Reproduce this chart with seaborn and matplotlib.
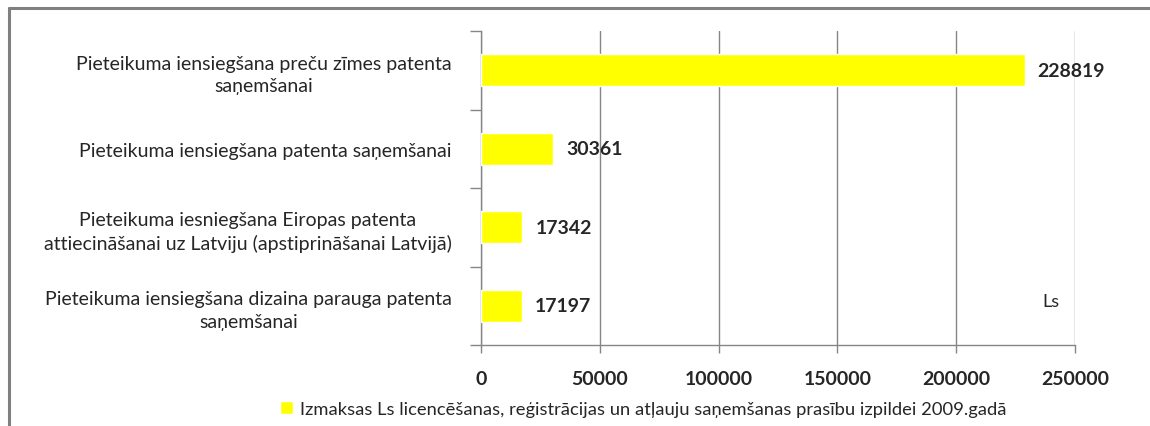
import matplotlib
matplotlib.use("Agg")
import matplotlib.pyplot as plt
from matplotlib.lines import Line2D
import seaborn as sns
import pandas as pd

# chart data
categories = [
    "Pieteikuma iensiegšana preču zīmes patenta\nsaņemšanai",
    "Pieteikuma iensiegšana patenta saņemšanai",
    "Pieteikuma iesniegšana Eiropas patenta\nattiecināšanai uz Latviju (apstiprināšanai Latvijā)",
    "Pieteikuma iensiegšana dizaina parauga patenta\nsaņemšanai",
]
values = [228819, 30361, 17342, 17197]
series_name = ("Izmaksas Ls licencēšanas, reģistrācijas un atļauju saņemšanas "
               "prasību izpildei 2009.gadā")
x_ticks = [0, 50000, 100000, 150000, 200000, 250000]
unit_label = "Ls"

sns.set_style("white")
plt.rcParams['font.family'] = ['Lato', 'DejaVu Sans']

df = pd.DataFrame({"category": categories, "value": values})

fig = plt.figure(figsize=(11.5, 4.27), dpi=100)
ax = fig.add_axes([481 / 1150, 1 - 346 / 427, 594 / 1150, 314 / 427])

sns.barplot(data=df, x="value", y="category", orient="h", color="#FFFF00",
            saturation=1, width=0.41, label=series_name, ax=ax, zorder=3)
h, l = ax.get_legend_handles_labels()
if ax.get_legend() is not None:
    ax.get_legend().remove()

grid_c = "#868686"
ax.set_xlim(0, 250000)
ax.set_ylim(len(categories) - 0.5, -0.5)
ax.set_xticks(x_ticks)
ax.set_xticklabels([str(t) for t in x_ticks], fontsize=14, fontweight="bold")
ax.xaxis.grid(True, color=grid_c, linewidth=1, zorder=0)
ax.tick_params(axis="x", bottom=True, length=6, color=grid_c, width=1, pad=12,
               direction="out")

# category labels on major ticks (no marks), boundaries as minor tick marks
ax.set_yticks(range(len(categories)))
ax.set_yticklabels(categories, fontsize=14, ha="right", multialignment="center",
                   linespacing=1.4)
ax.tick_params(axis="y", which="major", left=True, length=0, pad=21)
ax.set_yticks([i - 0.5 for i in range(len(categories) + 1)], minor=True)
ax.tick_params(axis="y", which="minor", left=True, length=8, color=grid_c,
               width=1, direction="out")
ax.set_xlabel("")
ax.set_ylabel("")

for s in ["top", "right"]:
    ax.spines[s].set_visible(False)
for s in ["left", "bottom"]:
    ax.spines[s].set_color(grid_c)
    ax.spines[s].set_linewidth(1)

# value labels
for i, v in enumerate(values):
    ax.text(v + 5500, i, str(v), va="center", ha="left", fontsize=14,
            fontweight="bold", zorder=4)

ax.text(0.96, 0.14, unit_label, transform=ax.transAxes, ha="center",
        va="center", fontsize=13)

# legend below
fig.legend(h, l, loc="center left", bbox_to_anchor=(280 / 1150, 1 - 410 / 427),
           frameon=False, fontsize=13.2, handlelength=0.7, handleheight=0.7,
           handletextpad=0.4, borderpad=0, borderaxespad=0)

# outer frame (left and top edges)
fig.add_artist(Line2D([8.5 / 1150, 8.5 / 1150], [0, 1 - 8.5 / 427],
                      transform=fig.transFigure, color="#808080", linewidth=2.2))
fig.add_artist(Line2D([8.5 / 1150, 1], [1 - 8.5 / 427, 1 - 8.5 / 427],
                      transform=fig.transFigure, color="#808080", linewidth=2.2))

fig.savefig("out.png", dpi=100, facecolor="white")
